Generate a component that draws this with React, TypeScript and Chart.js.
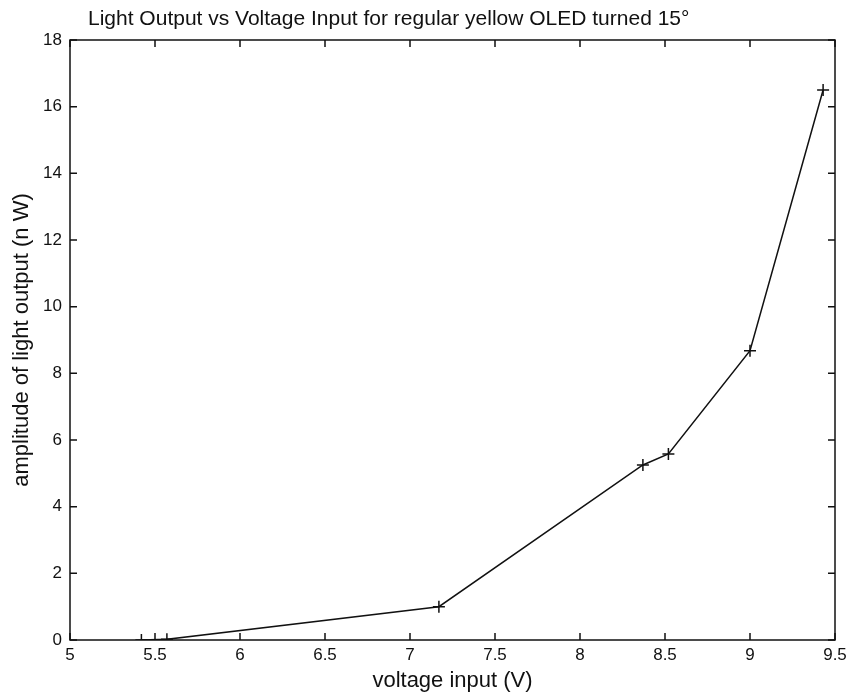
import React, { useEffect, useRef } from "react";
import { Chart, registerables } from "chart.js";

Chart.register(...registerables);

const voltage = [5.42, 5.57, 7.17, 8.37, 8.52, 9.0, 9.43];
const lightOutput = [0, 0.02, 1.0, 5.25, 5.58, 8.68, 16.5];
const xMin = 5;
const xMax = 9.5;
const xStep = 0.5;
const yMin = 0;
const yMax = 18;
const yStep = 2;
const titleText = "Light Output vs Voltage Input for regular yellow OLED turned 15\u00B0";
const xTitle = "voltage input (V)";
const yTitle = "amplitude of light output (n W)";

const FONT = "'Liberation Sans', Arial, sans-serif";

const boxTicks = {
  id: "boxTicks",
  afterDraw(chart: any) {
    const { ctx, chartArea } = chart;
    const { left, right, top, bottom } = chartArea;
    const len = 7;
    ctx.save();
    ctx.strokeStyle = "#111";
    ctx.lineWidth = 1.5;
    ctx.strokeRect(left, top, right - left, bottom - top);
    const xs = chart.scales.x;
    const ys = chart.scales.y;
    ctx.beginPath();
    xs.ticks.forEach((t: any) => {
      const px = xs.getPixelForValue(t.value);
      ctx.moveTo(px, bottom);
      ctx.lineTo(px, bottom - len);
      ctx.moveTo(px, top);
      ctx.lineTo(px, top + len);
    });
    ys.ticks.forEach((t: any) => {
      const py = ys.getPixelForValue(t.value);
      ctx.moveTo(left, py);
      ctx.lineTo(left + len, py);
      ctx.moveTo(right, py);
      ctx.lineTo(right - len, py);
    });
    ctx.stroke();
    // title
    ctx.fillStyle = "#111";
    ctx.font = "21px " + FONT;
    ctx.textAlign = "left";
    ctx.textBaseline = "alphabetic";
    ctx.fillText(titleText, 88, 25);
    ctx.restore();
  },
};

export default function App() {
  const ref = useRef<HTMLCanvasElement | null>(null);
  useEffect(() => {
    if (!ref.current) return;
    const chart = new Chart(ref.current, {
      type: "line",
      data: {
        datasets: [
          {
            data: voltage.map((v, i) => ({ x: v, y: lightOutput[i] })),
            borderColor: "#111",
            borderWidth: 1.5,
            pointStyle: "cross",
            pointRadius: 6,
            pointBorderWidth: 1.5,
            pointBorderColor: "#111",
            pointBackgroundColor: "#111",
            fill: false,
            tension: 0,
          },
        ],
      },
      options: {
        animation: false,
        responsive: true,
        maintainAspectRatio: false,
        layout: { padding: { left: 0, right: 12, top: 40, bottom: 0 } },
        plugins: {
          legend: { display: false },
          tooltip: { enabled: false },
          title: { display: false },
        },
        scales: {
          x: {
            type: "linear",
            min: xMin,
            max: xMax,
            ticks: {
              stepSize: xStep,
              color: "#111",
              font: { family: FONT, size: 17 },
              padding: 5,
              callback: (v: any) => String(v),
            },
            grid: { display: false, drawTicks: false },
            border: { display: false },
            title: {
              display: true,
              text: xTitle,
              color: "#111",
              font: { family: FONT, size: 22 },
              padding: { top: 0, bottom: 6 },
            },
            afterFit: (s: any) => {
              s.height = 60;
              s.paddingRight = 0;
              s.paddingLeft = 0;
            },
          },
          y: {
            type: "linear",
            min: yMin,
            max: yMax,
            ticks: {
              stepSize: yStep,
              color: "#111",
              font: { family: FONT, size: 17 },
              padding: 8,
            },
            grid: { display: false, drawTicks: false },
            border: { display: false },
            title: {
              display: true,
              text: yTitle,
              color: "#111",
              font: { family: FONT, size: 22 },
              padding: { top: 9, bottom: 0 },
            },
            afterFit: (s: any) => {
              s.width = 70;
            },
          },
        },
      },
      plugins: [boxTicks],
    });
    return () => chart.destroy();
  }, []);
  return (
    <div style={{ position: "fixed", left: 0, top: 0, width: 847, height: 700, background: "#fff" }}>
      <canvas ref={ref} />
    </div>
  );
}
